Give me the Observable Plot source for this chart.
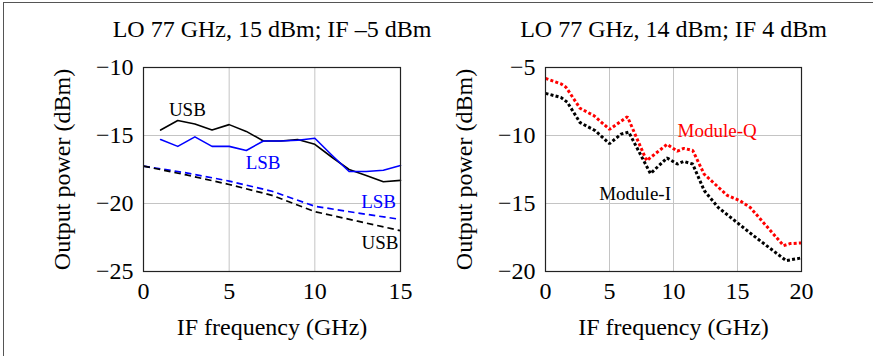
<!DOCTYPE html>
<html>
<head>
<meta charset="utf-8">
<script src="https://cdn.jsdelivr.net/npm/d3@7"></script>
<script src="https://cdn.jsdelivr.net/npm/@observablehq/plot@0.6"></script>
<style>
  html, body { margin: 0; padding: 0; background: #fff; }
  #wrap { position: relative; width: 873px; height: 356px; overflow: hidden; background: #fff; }
  #topline { position: absolute; left: 3px; top: 2px; width: 870px; height: 1px; background: #555; }
  #leftline { position: absolute; left: 3px; top: 2px; width: 1px; height: 354px; background: #555; }
  #left { position: absolute; left: 0; top: 0; }
  #right { position: absolute; left: 436px; top: 0; }
  svg { overflow: visible; }
</style>
</head>
<body>
<div id="wrap">
  <div id="left"></div>
  <div id="right"></div>
  <div id="topline"></div>
  <div id="leftline"></div>
</div>
<script>
// ---- Data ----
const titles = ["LO 77 GHz, 15 dBm; IF \u20135 dBm", "LO 77 GHz, 14 dBm; IF 4 dBm"];
const xLabel = "IF frequency (GHz)";
const yLabel = "Output power (dBm)";

// Left panel: measured (solid)
const measX = [1, 2, 3, 4, 5, 6, 7, 8, 9, 10, 11, 12, 13, 14, 15];
const usbMeas = [-14.6, -13.9, -14.15, -14.6, -14.2, -14.7, -15.4, -15.4, -15.3, -15.65, -16.6, -17.5, -17.95, -18.4, -18.3];
const lsbMeas = [-15.3, -15.8, -15.1, -15.8, -15.8, -16.1, -15.4, -15.4, -15.35, -15.2, -16.45, -17.65, -17.65, -17.55, -17.2];
// Left panel: simulated (dashed)
const simX = [0, 2.5, 5, 7.5, 10, 12.5, 15];
const usbSim = [-17.25, -17.9, -18.6, -19.4, -20.6, -21.3, -22.0];
const lsbSim = [-17.25, -17.75, -18.35, -19.1, -20.2, -20.7, -21.17];

// Right panel (dotted)
const modQx = [0, 1.2, 1.6, 2.7, 3.8, 5.0, 6.4, 7.9, 9.5, 10.3, 10.8, 11.5, 12.4, 14.2, 15.2, 16.0, 18.6, 19.1, 20];
const modQy = [-5.8, -6.2, -6.45, -8.0, -8.55, -9.55, -8.62, -11.85, -10.65, -11.15, -10.95, -11.1, -12.85, -14.4, -14.8, -15.3, -18.1, -17.95, -17.9];
const modIx = [0, 1.2, 1.7, 2.7, 3.9, 5.0, 5.9, 6.5, 8.2, 9.5, 10.3, 10.8, 11.5, 12.4, 13.5, 15.1, 16.3, 18.8, 20];
const modIy = [-6.9, -7.2, -7.55, -9.05, -9.65, -10.6, -9.9, -9.75, -12.8, -11.65, -12.1, -11.9, -12.1, -14.05, -15.3, -16.5, -17.4, -19.2, -19.0];

// Ticks
const leftXTicks = [0, 5, 10, 15];
const leftYTicks = [-25, -20, -15, -10];
const rightXTicks = [0, 5, 10, 15, 20];
const rightYTicks = [-20, -15, -10, -5];

// Curve labels
const leftLabels = [
  {x: 2.56, y: -13.1, text: "USB", color: "black"},
  {x: 6.98, y: -17.05, text: "LSB", color: "blue"},
  {x: 13.72, y: -19.9, text: "LSB", color: "blue"},
  {x: 13.8, y: -22.87, text: "USB", color: "black"}
];
const rightLabels = [
  {x: 13.41, y: -9.68, text: "Module-Q", color: "red"},
  {x: 7.0, y: -14.29, text: "Module-I", color: "black"}
];

const zip = (xs, ys) => xs.map((x, i) => ({x, y: ys[i]}));
const FONT = "Liberation Serif";
const GRID = "#c4c4c4";

function panel({width, marginLeft, marginRight, xDomain, yDomain, xTicks, yTicks, title, lines, labels}) {
  return Plot.plot({
    width, height: 356,
    marginLeft, marginRight, marginTop: 67, marginBottom: 85,
    style: {fontFamily: FONT, fontSize: "24px", background: "transparent", color: "black"},
    x: {domain: xDomain},
    y: {domain: yDomain},
    marks: [
      Plot.gridX(xTicks, {stroke: GRID, strokeOpacity: 1, strokeWidth: 1}),
      Plot.gridY(yTicks, {stroke: GRID, strokeOpacity: 1, strokeWidth: 1}),
      Plot.axisX(xTicks, {tickSize: 0, tickPadding: 10, label: null, fontSize: 24, tickFormat: d3.format("d")}),
      Plot.axisY(yTicks, {tickSize: 0, tickPadding: 10, label: null, fontSize: 24, tickFormat: d => d3.format("d")(d)}),
      ...lines,
      Plot.frame({stroke: "#222", strokeWidth: 1.2}),
      Plot.text(labels, {x: "x", y: "y", text: "text", fill: "color", fontSize: 19}),
      Plot.text([title], {frameAnchor: "top", dy: -38, fontSize: 24, lineAnchor: "middle"}),
      Plot.text([xLabel], {frameAnchor: "bottom", dy: 56, fontSize: 24, lineAnchor: "middle"}),
      Plot.text([yLabel], {frameAnchor: "left", dx: -81, rotate: -90, fontSize: 24, lineAnchor: "middle", textAnchor: "middle"})
    ]
  });
}

const leftLines = [
  Plot.line(zip(simX, lsbSim), {x: "x", y: "y", stroke: "blue", strokeWidth: 1.7, strokeDasharray: "6.5,4", strokeLinecap: "butt"}),
  Plot.line(zip(simX, usbSim), {x: "x", y: "y", stroke: "black", strokeWidth: 1.7, strokeDasharray: "6.5,4", strokeLinecap: "butt"}),
  Plot.line(zip(measX, usbMeas), {x: "x", y: "y", stroke: "black", strokeWidth: 1.6}),
  Plot.line(zip(measX, lsbMeas), {x: "x", y: "y", stroke: "blue", strokeWidth: 1.6})
];
const rightLines = [
  Plot.line(zip(modIx, modIy), {x: "x", y: "y", stroke: "black", strokeWidth: 3, strokeDasharray: "3,2.2", strokeLinecap: "butt", strokeLinejoin: "miter"}),
  Plot.line(zip(modQx, modQy), {x: "x", y: "y", stroke: "red", strokeWidth: 3, strokeDasharray: "3,2.2", strokeLinecap: "butt", strokeLinejoin: "miter"})
];

document.getElementById("left").append(panel({
  width: 436, marginLeft: 143, marginRight: 36,
  xDomain: [0, 15], yDomain: [-25, -10], xTicks: leftXTicks, yTicks: leftYTicks,
  title: titles[0], lines: leftLines, labels: leftLabels
}));
document.getElementById("right").append(panel({
  width: 437, marginLeft: 109, marginRight: 72,
  xDomain: [0, 20], yDomain: [-20, -5], xTicks: rightXTicks, yTicks: rightYTicks,
  title: titles[1], lines: rightLines, labels: rightLabels
}));
</script>
</body>
</html>
